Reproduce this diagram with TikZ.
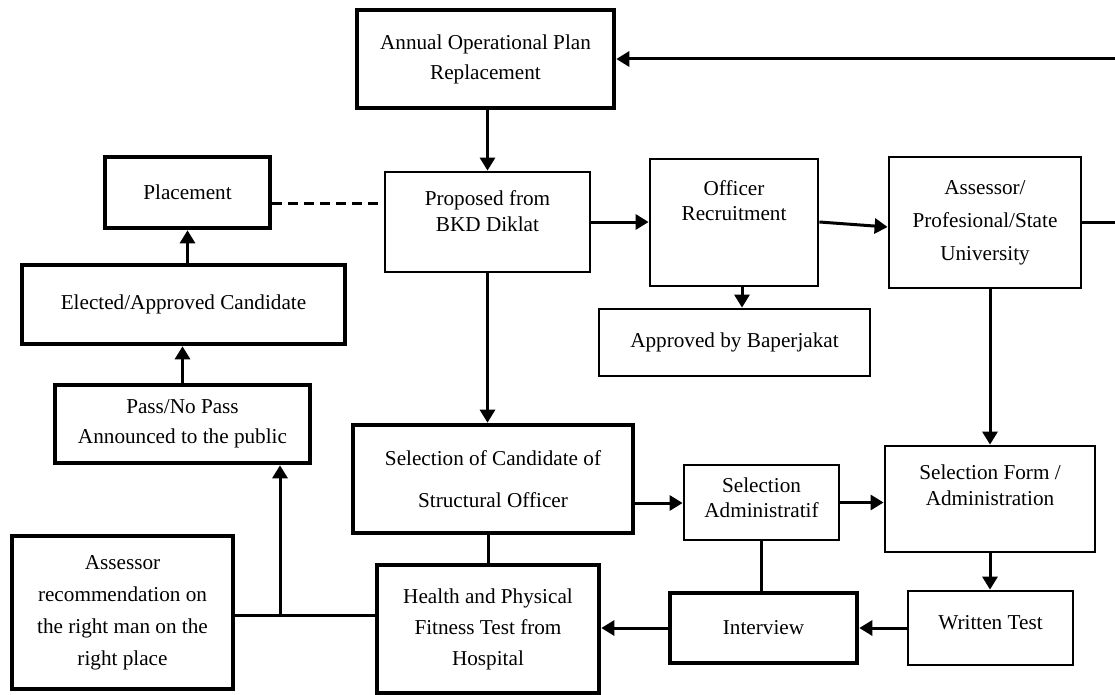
\documentclass[tikz,border=0pt]{standalone}
\usepackage{fontspec}
\setmainfont{Liberation Serif}
\usetikzlibrary{arrows.meta}
\begin{document}
\begin{tikzpicture}[x=1pt,y=-1pt,
  thinbox/.style={draw, line width=2.8pt, inner sep=0pt, align=center},
  thickbox/.style={draw, line width=4.6pt, inner sep=0pt, align=center},
  midbox/.style={draw, line width=3.3pt, inner sep=0pt, align=center},
  lbl/.style={inner sep=0pt, align=center},
  fs/.style={font=\fontsize{21.2}{#1}\selectfont},
  conn/.style={line width=3pt},
  arr/.style={line width=3pt, -{Triangle[length=13pt,width=15pt]}},
  dashline/.style={line width=3pt, dash pattern=on 10pt off 6pt},
]
\fill[white] (0,0) rectangle (1115,695);
\useasboundingbox (0,0) rectangle (1115,695);

% boxes
\node[thickbox, fs=30, minimum width=257pt, minimum height=98pt] (annual) at (485.5,59) {Annual Operational Plan\\Replacement};
\node[thickbox, fs=25, minimum width=165pt, minimum height=71pt] (placement) at (187.5,192.5) {Placement};
\node[thinbox, minimum width=205pt, minimum height=100pt] (proposed) at (487.5,222) {};
\node[lbl, fs=26] (proposed-t) at (487.5,211) {Proposed from\\BKD Diklat};
\node[thinbox, minimum width=168pt, minimum height=127pt] (officer) at (734,222.5) {};
\node[lbl, fs=25] (officer-t) at (734,200.5) {Officer\\Recruitment};
\node[thinbox, fs=33, minimum width=192pt, minimum height=131pt] (assessor) at (985,222.5) {Assessor/\\Profesional/State\\University};
\node[thinbox, fs=25, minimum width=271pt, minimum height=67pt] (approved) at (734.5,342.5) {Approved by Baperjakat};
\node[thickbox, fs=25, minimum width=323pt, minimum height=79pt] (elected) at (183.5,304.5) {Elected/Approved Candidate};
\node[thickbox, fs=30, minimum width=255pt, minimum height=78pt] (pass) at (182.5,424) {Pass/No Pass\\Announced to the public};
\node[midbox, fs=32, minimum width=221pt, minimum height=153pt] (rec) at (122.5,612.5) {Assessor\\recommendation on\\the right man on the\\right place};
\node[thickbox, fs=42, minimum width=280pt, minimum height=108pt] (selcand) at (493,479) {Selection of Candidate of\\Structural Officer};
\node[thickbox, fs=31, minimum width=222pt, minimum height=128pt] (health) at (488,629) {Health and Physical\\Fitness Test from\\Hospital};
\node[thinbox, minimum width=155pt, minimum height=75pt] (seladmin) at (761.5,502.5) {};
\node[lbl, fs=25] (seladmin-t) at (761.5,497.5) {Selection\\Administratif};
\node[thinbox, minimum width=210pt, minimum height=106pt] (selform) at (990,499) {};
\node[lbl, fs=26] (selform-t) at (990,485) {Selection Form /\\Administration};
\node[thinbox, minimum width=165pt, minimum height=74pt] (written) at (990.5,628) {};
\node[lbl, fs=25] (written-t) at (990.5,623) {Written Test};
\node[thickbox, fs=25, minimum width=187pt, minimum height=70pt] (interview) at (763.5,628) {Interview};

% connectors
\draw[arr] (assessor.east) -- ++(50,0) |- (annual.east);
\draw[arr] (annual.south -| proposed.north) -- (proposed.north);
\draw[dashline] ([yshift=-10.5pt]placement.east) -- ([yshift=19pt]proposed.west);
\draw[arr] (proposed.east) -- (officer.west |- proposed.east);
\draw[arr] ([yshift=0.5pt]officer.east) -- ([yshift=-4.5pt]assessor.west);
\coordinate (offs) at ([xshift=8pt]officer.south);
\draw[arr] (offs) -- (offs |- approved.north);
\draw[arr] (placement.south |- elected.north) -- (placement.south);
\draw[arr] (pass.north) -- (pass.north |- elected.south);
\coordinate (j) at (280,615);
\draw[conn] ([yshift=-2.5pt]rec.east) -- ([yshift=14pt]health.west);
\draw[arr] (j) -- (j |- pass.south);
\draw[arr] (proposed.south) -- (proposed.south |- selcand.north);
\draw[conn] (health.north) -- (health.north |- selcand.south);
\coordinate (a1) at ([yshift=-24pt]selcand.east);
\draw[arr] (a1) -- (a1 -| seladmin.west);
\draw[arr] (seladmin.east) -- (seladmin.east -| selform.west);
\draw[conn] (seladmin.south) -- (seladmin.south |- interview.north);
\draw[arr] (selform.north |- assessor.south) -- (selform.north);
\draw[arr] (selform.south) -- (selform.south |- written.north);
\draw[arr] (written.west) -- (written.west -| interview.east);
\draw[arr] (interview.west) -- (interview.west -| health.east);
\end{tikzpicture}
\end{document}
